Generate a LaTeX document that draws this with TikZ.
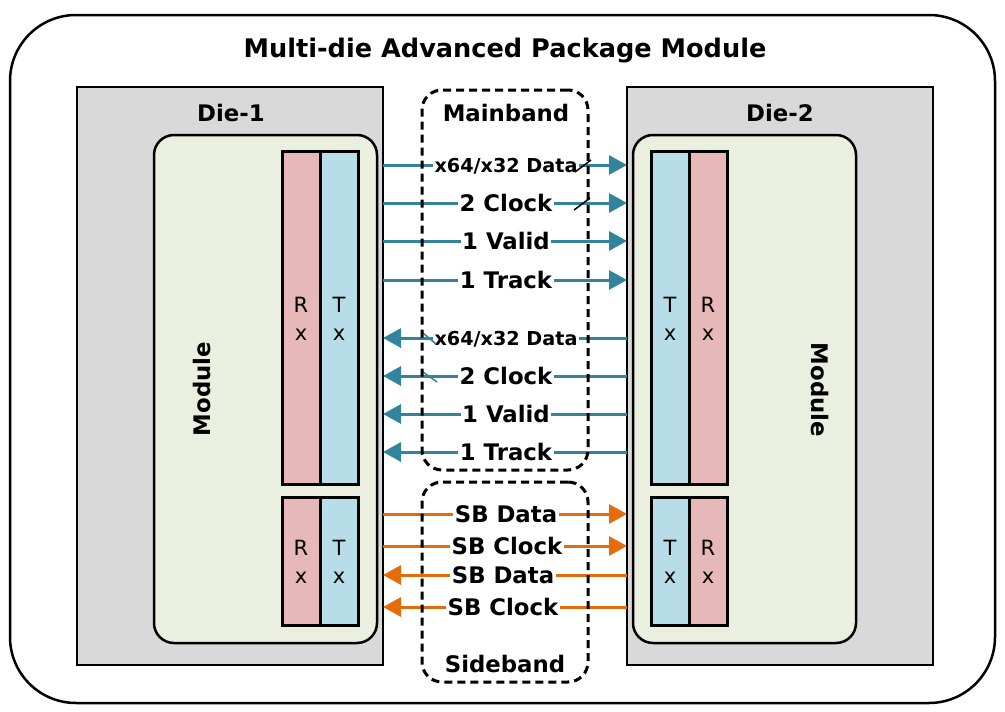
\documentclass[tikz,border=0pt]{standalone}
\usepackage{fontspec}
\setmainfont{DejaVu Sans}
\usetikzlibrary{arrows.meta}
\definecolor{tealc}{HTML}{31849B}
\definecolor{orangec}{HTML}{E46C0A}
\definecolor{rxc}{HTML}{E6B8B7}
\definecolor{txc}{HTML}{B7DEE8}
\definecolor{modc}{HTML}{EBEFDF}
\definecolor{diec}{HTML}{D9D9D9}
\begin{document}
\begin{tikzpicture}[x=1pt,y=-1pt,
  box/.style={draw, anchor=north west, inner sep=0pt, outer sep=0pt},
  diebox/.style={box, fill=diec, line width=2.5pt},
  modbox/.style={box, fill=modc, line width=2.5pt, rounded corners=20pt},
  rxbox/.style={box, fill=rxc, line width=3pt},
  txbox/.style={box, fill=txc, line width=3pt},
  bandbox/.style={box, dash pattern=on 8pt off 5pt, line width=3pt, rounded corners=20pt},
  bigfont/.style={font=\fontsize{22.8}{27}\selectfont\bfseries},
  smallfont/.style={font=\fontsize{19.2}{23}\selectfont\bfseries},
  lbl/.style={bigfont, fill=white, inner sep=1.5pt, anchor=base},
  slbl/.style={smallfont, fill=white, inner sep=1.5pt, anchor=base},
  rxtxt/.style={font=\fontsize{21}{28}\selectfont, align=center, inner sep=0pt},
  tarr/.style={draw=tealc, line width=3pt, -{Triangle[length=18pt,width=19pt]}},
  oarr/.style={draw=orangec, line width=3pt, -{Triangle[length=18pt,width=19pt]}},
  slash/.style={line width=1.5pt}
]
\useasboundingbox (0,0) rectangle (1005,712);
% outer package
\node[box, line width=2.5pt, rounded corners=66pt, minimum width=985pt, minimum height=688pt] (pkg) at (10,15) {};
\node[font=\fontsize{25.6}{30}\selectfont\bfseries, anchor=base] (title) at (505,57) {Multi-die Advanced Package Module};
% dies
\node[diebox, minimum width=306pt, minimum height=578pt] (die1) at (77,87) {};
\node[diebox, minimum width=306pt, minimum height=578pt] (die2) at (627,87) {};
\node[bigfont, anchor=base] (d1lbl) at (231,121) {Die-1};
\node[bigfont, anchor=base] (d2lbl) at (780,121) {Die-2};
% modules
\node[modbox, minimum width=223pt, minimum height=508pt] (mod1) at (154,135) {};
\node[modbox, minimum width=223pt, minimum height=508pt] (mod2) at (633,135) {};
\node[bigfont, rotate=90] (mod1lbl) at (202,389) {Module};
\node[bigfont, rotate=-90] (mod2lbl) at (820,390) {Module};
% Rx/Tx die 1
\node[rxbox, minimum width=38pt, minimum height=333pt] (rx1) at (282,151) {};
\node[txbox, minimum width=38pt, minimum height=333pt] (tx1) at (320,151) {};
\node[rxbox, minimum width=38pt, minimum height=128pt] (rx1s) at (282,497) {};
\node[txbox, minimum width=38pt, minimum height=128pt] (tx1s) at (320,497) {};
% Rx/Tx die 2
\node[txbox, minimum width=38pt, minimum height=333pt] (tx2) at (651,151) {};
\node[rxbox, minimum width=38pt, minimum height=333pt] (rx2) at (689,151) {};
\node[txbox, minimum width=38pt, minimum height=128pt] (tx2s) at (651,497) {};
\node[rxbox, minimum width=38pt, minimum height=128pt] (rx2s) at (689,497) {};
% Rx/Tx texts
\node[rxtxt] (rx1t) at (301,319) {R\\x};
\node[rxtxt] (tx1t) at (339,319) {T\\x};
\node[rxtxt] (rx1st) at (301,562) {R\\x};
\node[rxtxt] (tx1st) at (339,562) {T\\x};
\node[rxtxt] (tx2t) at (670,319) {T\\x};
\node[rxtxt] (rx2t) at (708,319) {R\\x};
\node[rxtxt] (tx2st) at (670,562) {T\\x};
\node[rxtxt] (rx2st) at (708,562) {R\\x};
% mainband arrows
\draw[tarr] (die1.east |- 0,165) -- (die2.west |- 0,165);
\draw[tarr] (die1.east |- 0,203) -- (die2.west |- 0,203);
\draw[tarr] (die1.east |- 0,241) -- (die2.west |- 0,241);
\draw[tarr] (die1.east |- 0,280) -- (die2.west |- 0,280);
\draw[tarr] (die2.west |- 0,338) -- (die1.east |- 0,338);
\draw[tarr] (die2.west |- 0,376) -- (die1.east |- 0,376);
\draw[tarr] (die2.west |- 0,414) -- (die1.east |- 0,414);
\draw[tarr] (die2.west |- 0,452) -- (die1.east |- 0,452);
% sideband arrows
\draw[oarr] (die1.east |- 0,514) -- (die2.west |- 0,514);
\draw[oarr] (die1.east |- 0,546) -- (die2.west |- 0,546);
\draw[oarr] (die2.west |- 0,575) -- (die1.east |- 0,575);
\draw[oarr] (die2.west |- 0,607) -- (die1.east |- 0,607);
% labels
\node[slbl] (l1) at (506,172) {x64/x32 Data};
\node[lbl] (l2) at (506,211) {2 Clock};
\node[lbl] (l3) at (506,249) {1 Valid};
\node[lbl] (l4) at (506,288) {1 Track};
\node[slbl] (l5) at (506,345) {x64/x32 Data};
\node[lbl] (l6) at (506,384) {2 Clock};
\node[lbl] (l7) at (506,422) {1 Valid};
\node[lbl] (l8) at (506,460) {1 Track};
\node[lbl] (s1) at (506,522) {SB Data};
\node[lbl] (s2) at (507,554) {SB Clock};
\node[lbl] (s3) at (503,583) {SB Data};
\node[lbl] (s4) at (503,615) {SB Clock};
% bus-width slashes
\draw[slash] (575,172) -- (591,160);
\draw[slash] (574,210) -- (590,198);
\draw[slash, draw=tealc] (423,333) -- (436,344);
\draw[slash, draw=tealc] (423,372) -- (437,382);
% bands
\node[bandbox, minimum width=166pt, minimum height=380pt] (mainband) at (422,90) {};
\node[bandbox, minimum width=166pt, minimum height=200pt] (sideband) at (422,482) {};
\node[bigfont, anchor=base] (mblbl) at (506,121) {Mainband};
\node[bigfont, anchor=base] (sblbl) at (505,672) {Sideband};
\end{tikzpicture}
\end{document}
